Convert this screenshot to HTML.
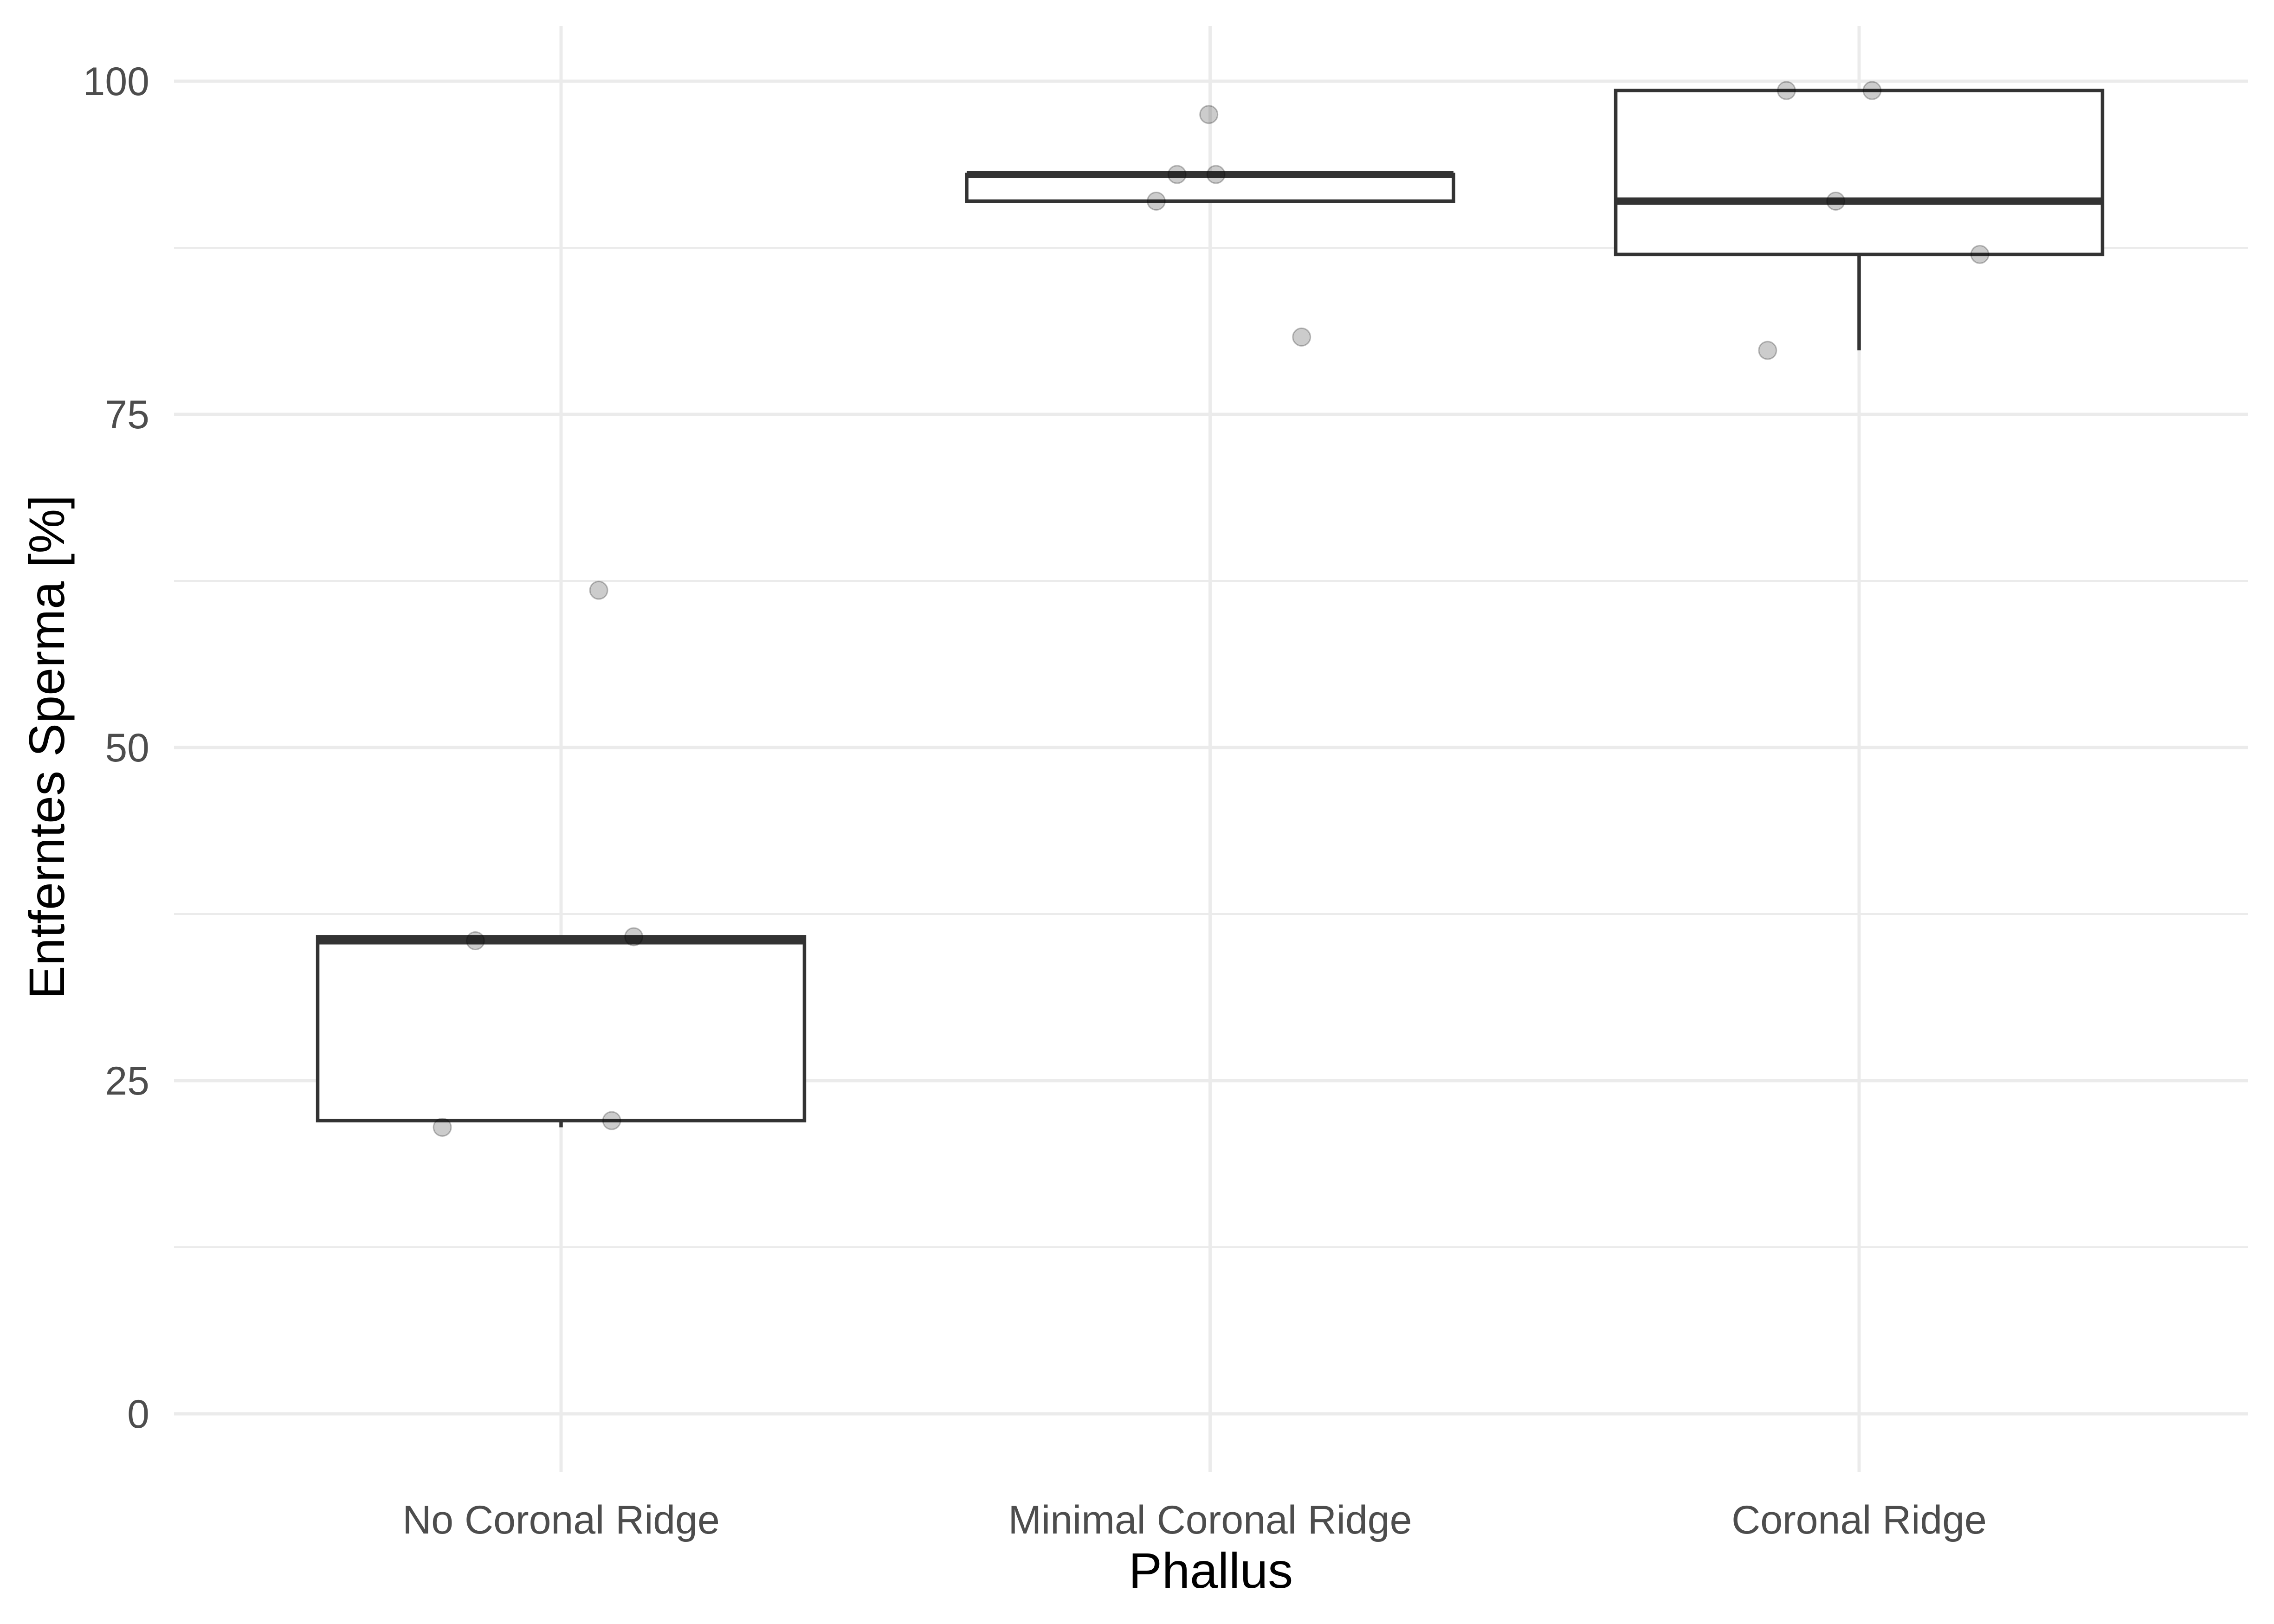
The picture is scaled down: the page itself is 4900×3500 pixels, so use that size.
<!DOCTYPE html>
<html><head><meta charset="utf-8"><style>
html,body{margin:0;padding:0;background:#fff;}
svg{display:block;font-family:"Liberation Sans",Arial,sans-serif;}
</style></head><body>
<svg id="chart" width="4900" height="3500" viewBox="0 0 4900 3500" xmlns="http://www.w3.org/2000/svg">
<rect width="4900" height="3500" fill="#fff"/>
<g id="grid"></g>
<g id="boxes"></g>
<g id="points"></g>
<g id="axes"></g>
<text x="2609" y="3422" font-size="108" text-anchor="middle" fill="#000">Phallus</text>
<text transform="translate(138,1610) rotate(-90)" font-size="108" text-anchor="middle" fill="#000">Entferntes Sperma [%]</text>
</svg>
<script>
const categories = ["No Coronal Ridge","Minimal Coronal Ridge","Coronal Ridge"];
const valuesNo = [21.5, 35.5, 61.8, 22.0, 35.8];
const valuesMinimal = [91.0, 93.0, 93.0, 97.5, 80.8];
const valuesCoronal = [79.8, 87.0, 91.0, 99.3, 99.3];
const jitterNo = [-0.183, -0.132, 0.058, 0.078, 0.112];
const jitterMinimal = [-0.083, -0.051, 0.009, -0.002, 0.141];
const jitterCoronal = [-0.141, 0.186, -0.036, -0.112, 0.02];
const yTicks = [0, 25, 50, 75, 100];
const yMinor = [12.5, 37.5, 62.5, 87.5];

const NS = "http://www.w3.org/2000/svg";
const panel = {l:375, r:4844, t:56, b:3172};
const y = v => 3047 - v * (3047 - 175) / 100;
const x = i => 1209 + i * 1398.5;
const catW = 1398.5;
function mk(tag, attrs, parent){const e=document.createElementNS(NS,tag);for(const k in attrs)e.setAttribute(k,attrs[k]);parent.appendChild(e);return e;}
const grid=document.getElementById('grid'), boxes=document.getElementById('boxes'), pts=document.getElementById('points'), axes=document.getElementById('axes');

yMinor.forEach(v=>{const l=mk('line',{x1:panel.l,x2:panel.r,y1:y(v),y2:y(v),stroke:'#ebebeb','stroke-width':4},grid);

});
yTicks.forEach(v=>{const l=mk('line',{x1:panel.l,x2:panel.r,y1:y(v),y2:y(v),stroke:'#ebebeb','stroke-width':7},grid);


const t=mk('text',{x:322,y:y(v)+30,'font-size':86,'text-anchor':'end',fill:'#4d4d4d'},axes);t.textContent=v;

});
categories.forEach((c,i)=>{const l=mk('line',{x1:x(i),x2:x(i),y1:panel.t,y2:panel.b,stroke:'#ebebeb','stroke-width':7},grid);


const t=mk('text',{x:x(i),y:3305,'font-size':86,'text-anchor':'middle',fill:'#4d4d4d'},axes);t.textContent=c;

});

function q(arr,p){const s=[...arr].sort((a,b)=>a-b);const h=(s.length-1)*p;const lo=Math.floor(h),hi=Math.ceil(h);return s[lo]+(s[hi]-s[lo])*(h-lo);}
const allVals=[valuesNo,valuesMinimal,valuesCoronal], allJit=[jitterNo,jitterMinimal,jitterCoronal];
allVals.forEach((vals,i)=>{
  const q1=q(vals,.25),med=q(vals,.5),q3=q(vals,.75),iqr=q3-q1;
  const inside=vals.filter(v=>v>=q1-1.5*iqr&&v<=q3+1.5*iqr);
  const lo=Math.min(...inside),hi=Math.max(...inside);
  const g=mk('g',{},boxes);
  
  
  const cx=x(i),hw=0.375*catW;
  if(lo<q1) mk('line',{x1:cx,x2:cx,y1:y(q1),y2:y(lo),stroke:'#333','stroke-width':7.5},g);
  if(hi>q3) mk('line',{x1:cx,x2:cx,y1:y(q3),y2:y(hi),stroke:'#333','stroke-width':7.5},g);
  mk('rect',{x:cx-hw,y:y(q3),width:2*hw,height:y(q1)-y(q3),fill:'#fff',stroke:'#333','stroke-width':7.5},g);
  mk('line',{x1:cx-hw,x2:cx+hw,y1:y(med),y2:y(med),stroke:'#333','stroke-width':16},g);
  vals.forEach((v,j)=>{const c=mk('circle',{cx:x(i+allJit[i][j]),cy:y(v),r:19,fill:'rgba(0,0,0,0.2)',stroke:'rgba(0,0,0,0.25)','stroke-width':3},pts);
    
    });
});
</script>
</body></html>
